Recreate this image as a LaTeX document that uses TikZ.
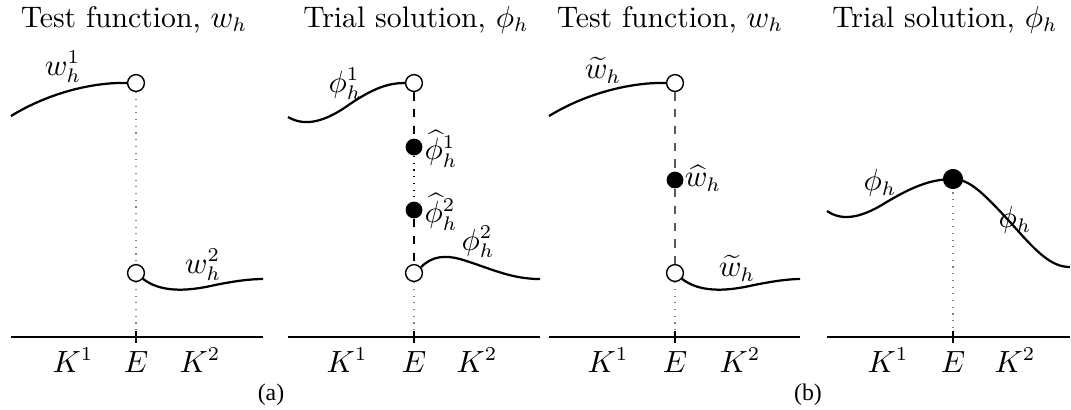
\documentclass[tikz,border=0pt]{standalone}
\usepackage{fontspec}
\newfontfamily\capfont{Liberation Serif}
\begin{document}
\begin{tikzpicture}[x=0.357pt,y=-0.357pt,
  every node/.style={font=\fontsize{10.6pt}{13pt}\selectfont},
  open/.style={circle,draw,fill=white,line width=0.5pt,minimum size=6pt,inner sep=0pt},
  fulldot/.style={circle,fill=black,minimum size=6pt,inner sep=0pt},
  bigdot/.style={circle,fill=black,minimum size=7.2pt,inner sep=0pt},
  curve/.style={line width=0.8pt},
  axis/.style={line width=0.9pt},
  guide/.style={gray,dotted,line width=0.4pt},
  jump/.style={dashed,line width=0.5pt},
  jumpgray/.style={dashed,line width=0.5pt,black!65},
  lbl/.style={inner sep=0pt},
  axlbl/.style={inner sep=0pt,anchor=base},
  title/.style={inner sep=0pt,anchor=base},
  sub/.style={inner sep=0pt,font=\capfont\fontsize{8.5pt}{10pt}\selectfont}]
\useasboundingbox (0,0) rectangle (1071,409);

% ---------- Panel 1 ----------
\node[title] (t1) at (134,27) {Test function, $w_h$};
\node[open] (p1u) at (136,83) {};
\node[open] (p1l) at (136,273) {};
\coordinate (p1L) at (11,337);
\coordinate (p1R) at (263,337);
\coordinate (p1E) at (136,337);
\draw[guide] (p1u) -- (p1l);
\draw[guide] (p1l) -- (p1E);
\draw[curve] (11,116) .. controls (50,92) and (95,82) .. (p1u.west);
\draw[curve] (p1l.-40) .. controls (160,292) and (185,292) .. (215,285) .. controls (235,281) and (250,279) .. (263,279);
\draw[axis] (p1L) -- (p1R);
\draw[axis] (p1E) ++(0,-6) -- ++(0,12);
\node[lbl] (l1a) at (63,67) {$w_h^1$};
\node[lbl] (l1b) at (203,265) {$w_h^2$};
\node[axlbl] (k1a) at (73,372) {$K^1$};
\node[axlbl] (e1) at (136,372) {$E$};
\node[axlbl] (k1b) at (200,372) {$K^2$};
\node[sub] (cap1) at (271,395) {(a)};

% ---------- Panel 2 ----------
\node[title] (t2) at (416,27) {Trial solution, $\phi_h$};
\node[open] (p2u) at (414,83) {};
\node[fulldot] (p2a) at (414,147) {};
\node[fulldot] (p2b) at (414,210) {};
\node[open] (p2l) at (414,273) {};
\coordinate (p2L) at (288,337);
\coordinate (p2R) at (540,337);
\coordinate (p2E) at (414,337);
\draw[jump] (p2u) -- (p2a);
\draw[dotted,line width=0.4pt] (p2a) -- (p2b);
\draw[jump] (p2b) -- (p2l);
\draw[guide] (p2l) -- (p2E);
\draw[curve] (288,117) .. controls (305,127) and (325,122) .. (350,104) .. controls (375,87) and (390,83) .. (p2u.west);
\draw[curve] (p2l.40) .. controls (432,256) and (445,255) .. (460,259) .. controls (490,268) and (510,279) .. (540,279);
\draw[axis] (p2L) -- (p2R);
\draw[axis] (p2E) ++(0,-6) -- ++(0,12);
\node[lbl] (l2a) at (345,84) {$\phi_h^1$};
\node[lbl] (l2b) at (441,149) {$\widehat{\phi}_h^1$};
\node[lbl] (l2c) at (441,212) {$\widehat{\phi}_h^2$};
\node[lbl] (l2d) at (478,242) {$\phi_h^2$};
\node[axlbl] (k2a) at (347,372) {$K^1$};
\node[axlbl] (e2) at (414,372) {$E$};
\node[axlbl] (k2b) at (477,372) {$K^2$};

% ---------- Panel 3 ----------
\node[title] (t3) at (670,27) {Test function, $w_h$};
\node[open] (p3u) at (675,83) {};
\node[fulldot] (p3a) at (675,180) {};
\node[open] (p3l) at (675,273) {};
\coordinate (p3L) at (549,337);
\coordinate (p3R) at (800,337);
\coordinate (p3E) at (675,337);
\draw[jumpgray] (p3u) -- (p3a);
\draw[jumpgray] (p3a) -- (p3l);
\draw[guide] (p3l) -- (p3E);
\draw[curve] (549,116) .. controls (588,92) and (634,82) .. (p3u.west);
\draw[curve] (p3l.-40) .. controls (699,292) and (724,292) .. (754,285) .. controls (774,281) and (789,279) .. (800,279);
\draw[axis] (p3L) -- (p3R);
\draw[axis] (p3E) ++(0,-6) -- ++(0,12);
\node[lbl] (l3a) at (603,70) {$\widetilde{w}_h$};
\node[lbl] (l3b) at (703,178) {$\widehat{w}_h$};
\node[lbl] (l3c) at (737,268) {$\widetilde{w}_h$};
\node[axlbl] (k3a) at (608,372) {$K^1$};
\node[axlbl] (e3) at (675,372) {$E$};
\node[axlbl] (k3b) at (740,372) {$K^2$};
\node[sub] (cap2) at (808,395) {(b)};

% ---------- Panel 4 ----------
\node[title] (t4) at (945,27) {Trial solution, $\phi_h$};
\coordinate (p4c) at (953,179);
\coordinate (p4L) at (827,337);
\coordinate (p4R) at (1070,337);
\coordinate (p4E) at (953,337);
\draw[guide] (p4c) -- (p4E);
\draw[curve] (827,211) .. controls (840,220) and (858,220) .. (885,203) .. controls (910,188) and (930,179) .. (p4c) .. controls (970,179) and (985,195) .. (1010,222) .. controls (1035,250) and (1050,267) .. (1070,267);
\node[bigdot] (p4d) at (p4c) {};
\draw[axis] (p4L) -- (p4R);
\draw[axis] (p4E) ++(0,-6) -- ++(0,12);
\node[lbl] (l4a) at (880,183) {$\phi_h$};
\node[lbl] (l4b) at (1015,220) {$\phi_h$};
\node[axlbl] (k4a) at (888,372) {$K^1$};
\node[axlbl] (e4) at (953,372) {$E$};
\node[axlbl] (k4b) at (1015,372) {$K^2$};
\end{tikzpicture}
\end{document}
